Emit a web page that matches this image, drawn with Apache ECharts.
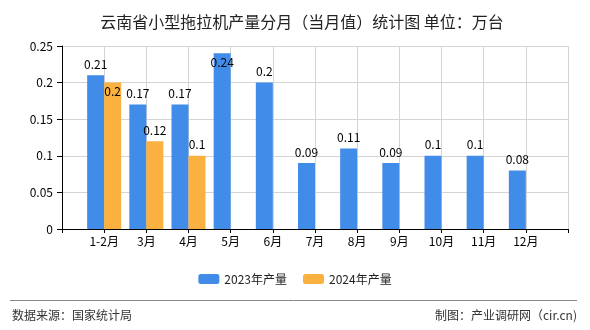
<!DOCTYPE html>
<html><head><meta charset="utf-8">
<script src="https://cdn.jsdelivr.net/npm/echarts@6/dist/echarts.min.js"></script>
<style>html,body{margin:0;padding:0;background:#fff}#c{width:590px;height:330px}</style>
</head><body><div id="c"></div>
<script>
var categories = ['1-2月','3月','4月','5月','6月','7月','8月','9月','10月','11月','12月'];
var values2023 = [0.21,0.17,0.17,0.24,0.2,0.09,0.11,0.09,0.1,0.1,0.08];
var values2024 = [0.2,0.12,0.1,null,null,null,null,null,null,null,null];
var yTicks = [0,0.05,0.1,0.15,0.2,0.25];
var seriesNames = ['2023年产量','2024年产量'];

var FONT = "'Noto Sans CJK SC', sans-serif";
var cats = [''].concat(categories).concat(['']);
function pad(arr){ return [null].concat(arr).concat([null]); }
function build(arr, insideIdx){
  return pad(arr).map(function(v,i){
    if (v === null) return null;
    var item = {value: v};
    if (insideIdx.indexOf(i-1) >= 0) item.label = {position:'insideTop', distance:3};
    return item;
  });
}
var chart = echarts.init(document.getElementById('c'));
var labelCfg = {show:true, position:'top', distance:5, color:'#000', fontSize:12, fontFamily:FONT};
chart.setOption({
  animation:false,
  textStyle:{fontFamily:FONT},
  title:{text:'云南省小型拖拉机产量分月（当月值）统计图 单位：万台', left:297, textAlign:'center', top:9,
    textStyle:{fontSize:16, fontWeight:'normal', color:'#222', fontFamily:FONT}},
  legend:{data:seriesNames, left:'center', top:268, itemWidth:21, itemHeight:10, itemGap:16,
    textStyle:{fontSize:12, color:'#222', fontFamily:FONT}},
  grid:{left:62, right:22, top:46, bottom:101},
  xAxis:{type:'category', data:cats, boundaryGap:false,
    axisLine:{lineStyle:{color:'#000', width:1}},
    axisTick:{show:true, length:4, lineStyle:{color:'#000'}},
    axisLabel:{color:'#000', fontSize:12, margin:6, interval:0, fontFamily:FONT},
    splitLine:{show:true, lineStyle:{color:'#d4d4d4', width:1}}},
  yAxis:{type:'value', min:yTicks[0], max:yTicks[yTicks.length-1], interval:0.05,
    axisLine:{show:true, lineStyle:{color:'#000', width:1}},
    axisTick:{show:true, length:5, lineStyle:{color:'#000'}},
    axisLabel:{color:'#000', fontSize:12, margin:9, fontFamily:FONT, formatter:function(v){return String(+v.toFixed(2));}},
    splitLine:{show:true, lineStyle:{color:'#d4d4d4', width:1}}},
  series:[
    {name:seriesNames[0], type:'bar', data:build(values2023,[3]), barWidth:17, barGap:'0%',
      itemStyle:{color:'#418be9'}, label:labelCfg},
    {name:seriesNames[1], type:'bar', data:build(values2024,[0]), barWidth:17, barGap:'0%',
      itemStyle:{color:'#fbb140'}, label:labelCfg}
  ],
  graphic:[
    {type:'line', shape:{x1:10, y1:300.5, x2:577, y2:300.5}, style:{stroke:'#888', lineWidth:1}},
    {type:'text', left:12, top:309, style:{text:'数据来源：国家统计局', fill:'#333', font:'12px '+FONT}},
    {type:'text', right:13, top:309, style:{text:'制图：产业调研网（cir.cn)', fill:'#333', font:'12px '+FONT}}
  ]
});
</script></body></html>
